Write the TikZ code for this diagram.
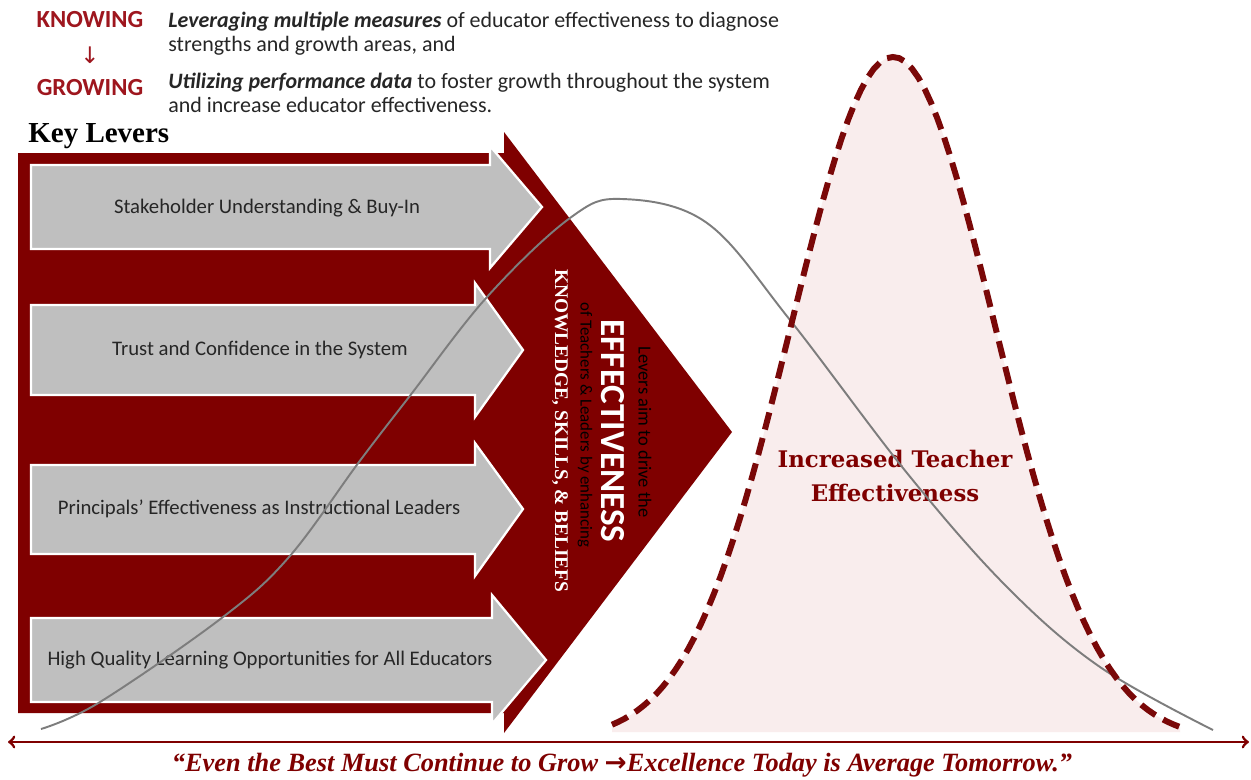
\documentclass[tikz,border=0pt]{standalone}
\usepackage{fontspec}
\usepackage{graphicx}
\setmainfont{Carlito}
\newfontfamily\headserif{Liberation Serif}
\newfontfamily\bellserif{DejaVu Serif}
\newfontfamily\symfont{DejaVu Sans}
\usepackage{tikz}
\usetikzlibrary{arrows}

\definecolor{levred}{RGB}{127,0,0}
\definecolor{wordred}{RGB}{158,22,30}
\definecolor{dashred}{RGB}{122,8,8}
\definecolor{bellpink}{RGB}{249,237,237}
\definecolor{levgray}{RGB}{191,191,191}
\definecolor{oldgray}{RGB}{125,125,125}
\definecolor{inkgray}{RGB}{38,38,38}

\begin{document}
\begin{tikzpicture}[x=0.02cm,y=-0.02cm,
        lever/.style={fill=levgray,draw=white,line width=1.3pt},
        levtext/.style={font=\fontsize{11.8}{13}\selectfont,text=inkgray},
        intro/.style={anchor=base west,inner sep=0pt,font=\fontsize{12.5}{14}\selectfont,text=inkgray},
        stage/.style={font=\fontsize{14}{16}\selectfont\bfseries,text=wordred},
        sideways/.style={rotate=-90,inner sep=0pt}]
        \fill[white] (0,0) rectangle (1251,779);
        \useasboundingbox (0,0) rectangle (1251,779);

        % knowing -> growing
        \node[stage] (know) at (90,20) {KNOWING};
        \node[text=wordred,font=\symfont\fontsize{13}{14}\selectfont] (down) at (90,55) {↓};
        \node[stage] (grow) at (90,88) {GROWING};
        \node[intro] (l1) at (168,27) {\textbf{\textit{Leveraging multiple measures}} of educator effectiveness to diagnose};
        \node[intro] (l2) at (168,51) {strengths and growth areas, and};
        \node[intro] (l3) at (168,88) {\textbf{\textit{Utilizing performance data}} to foster growth throughout the system};
        \node[intro] (l4) at (168,112) {and increase educator effectiveness.};
        \node[anchor=base west,inner sep=0pt,font=\headserif\fontsize{16.5}{18}\selectfont\bfseries] (keys) at (28,142) {Key Levers};

        % pink bell
        \fill[bellpink] (612,732) -- plot[domain=612:1180,samples=90] (\x,{740-683*exp(-0.5*((\x-893)/102)^2)}) -- (1180,732) -- cycle;

        % red block with chevron
        \fill[levred] (18,153) -- (504,153) -- (504,132) -- (732,432) -- (504,733) -- (504,713) -- (18,713) -- cycle;

        % levers
        \draw[lever] (31,165) -- (490,165) -- (490,146) -- (542,207) -- (490,268) -- (490,249) -- (31,249) -- cycle;
        \draw[lever] (31,305) -- (475,305) -- (475,283) -- (523,350) -- (475,417) -- (475,395) -- (31,395) -- cycle;
        \draw[lever] (31,465) -- (475,465) -- (475,443) -- (523,509) -- (475,576) -- (475,554) -- (31,554) -- cycle;
        \draw[lever] (31,618) -- (492,618) -- (492,595) -- (546,660) -- (492,724) -- (492,702) -- (31,702) -- cycle;
        \node[levtext] (lev1) at (267,208) {Stakeholder Understanding \& Buy-In};
        \node[levtext] (lev2) at (260,350) {Trust and Confidence in the System};
        \node[levtext] (lev3) at (259,509) {Principals’ Effectiveness as Instructional Leaders};
        \node[levtext] (lev4) at (270,660) {High Quality Learning Opportunities for All Educators};

        % chevron wording
        \node[sideways,font=\fontsize{10.5}{12}\selectfont] (aim) at (645,432) {Levers aim to drive the};
        \node[sideways,text=white,font=\fontsize{20}{22}\selectfont\bfseries] (eff) at (613,431) {EFFECTIVENESS};
        \node[sideways,font=\fontsize{9.6}{11}\selectfont] (whom) at (585,425) {of Teachers \& Leaders by enhancing};
        \node[sideways,text=white,font=\headserif\fontsize{11}{13}\selectfont\bfseries] (ksb) at (560,431) {KNOWLEDGE, SKILLS, \& BELIEFS};

        \node[text=levred,align=center,font=\bellserif\fontsize{13}{19}\selectfont\bfseries] (gain) at (895,476) {Increased Teacher\\Effectiveness};

        % old distribution
        \draw[oldgray,line width=1.1pt] plot[smooth,tension=0.6] coordinates {(41,729) (100,702) (223,617) (289,557) (359,462) (409,397) (487,297) (570,218) (622,199) (707,223) (790,320) (907,473) (1007,587) (1100,667) (1213,730)};

        % new distribution
        \draw[dashred,line width=3.4pt,dash pattern=on 10pt off 5pt] plot[domain=612:1180,samples=90] (\x,{740-683*exp(-0.5*((\x-893)/102)^2)});

        % scale line and motto
        \coordinate (spanL) at (8,742);
        \coordinate (spanR) at (1249,742);
        \draw[levred,line width=1.6pt,<->,>=to] (spanL) -- (spanR);
        \node[text=levred,font=\headserif\fontsize{15}{17}\selectfont\bfseries\itshape] (motto) at (622,765) {“Even the Best Must Continue to Grow {\symfont→}Excellence Today is Average Tomorrow.”};
\end{tikzpicture}
\end{document}
